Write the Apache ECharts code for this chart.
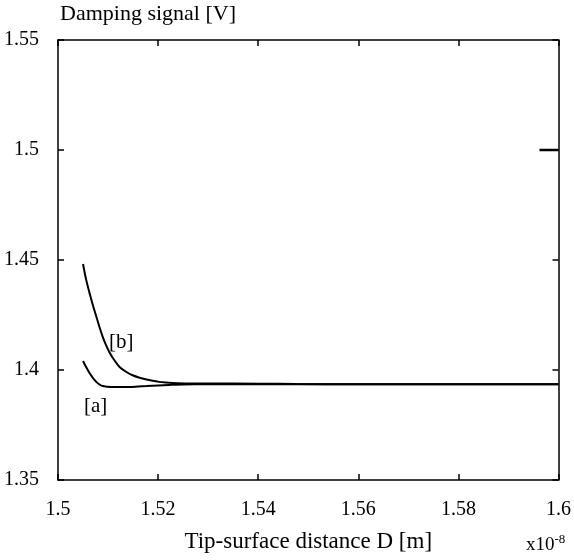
<!DOCTYPE html>
<html><head><meta charset="utf-8">
<script src="https://cdn.jsdelivr.net/npm/echarts@6/dist/echarts.min.js"></script>
<style>html,body{margin:0;padding:0;background:#fff}#c{width:574px;height:560px}</style>
</head><body><div id="c"></div>
<script>
const xTicks = [1.5, 1.52, 1.54, 1.56, 1.58, 1.6];
const yTicks = [1.35, 1.4, 1.45, 1.5, 1.55];
const curveA_x = [1.5050, 1.5057, 1.5063, 1.5070, 1.5077, 1.5083, 1.5089, 1.5099, 1.5109, 1.5125, 1.5143, 1.5160, 1.5177, 1.5200, 1.5222, 1.5250, 1.5300, 1.5400, 1.5500, 1.5600, 1.5700, 1.5800, 1.5900, 1.6000];
const curveA_y = [1.4041, 1.4010, 1.3986, 1.3963, 1.3945, 1.3934, 1.3927, 1.3924, 1.3923, 1.3923, 1.3923, 1.3925, 1.3927, 1.3930, 1.3932, 1.3934, 1.3935, 1.3935, 1.3935, 1.3935, 1.3935, 1.3935, 1.3935, 1.3935];
const curveB_x = [1.5050, 1.5056, 1.5063, 1.5070, 1.5077, 1.5083, 1.5089, 1.5096, 1.5103, 1.5113, 1.5123, 1.5136, 1.5149, 1.5163, 1.5177, 1.5190, 1.5202, 1.5215, 1.5228, 1.5260, 1.5300, 1.5400, 1.5476, 1.5600, 1.5800, 1.6000];
const curveB_y = [1.4482, 1.4413, 1.4350, 1.4292, 1.4240, 1.4194, 1.4153, 1.4113, 1.4080, 1.4043, 1.4014, 1.3992, 1.3976, 1.3965, 1.3957, 1.3951, 1.3946, 1.3943, 1.3941, 1.3939, 1.3939, 1.3938, 1.3936, 1.3935, 1.3935, 1.3935];
const segC_x = [1.5962, 1.6000];
const segC_y = [1.5, 1.5];

const font = '"Liberation Serif","DejaVu Serif",serif';
const fmt = v => String(Number(v.toFixed(3)));
const zip = (xs, ys) => xs.map((x, i) => [x, ys[i]]);

const chart = echarts.init(document.getElementById('c'), null, {renderer: 'canvas'});
const axisCommon = {
  type: 'value',
  axisLine: {show: true, onZero: false, lineStyle: {color: '#000', width: 1.5}},
  axisTick: {show: true, inside: true, length: 6, lineStyle: {color: '#000', width: 1.5}},
  splitLine: {show: false}
};
chart.setOption({
  animation: false,
  backgroundColor: '#fff',
  grid: {left: 58, right: 12, top: 40, bottom: 80},
  xAxis: [
    Object.assign({}, axisCommon, {min: 1.5, max: 1.6, interval: 0.02, position: 'bottom',
      axisLabel: {color: '#000', fontFamily: font, fontSize: 20, margin: 20, formatter: fmt},
      name: 'Tip-surface distance D [m]', nameLocation: 'middle', nameGap: 50,
      nameTextStyle: {color: '#000', fontFamily: font, fontSize: 23}}),
    Object.assign({}, axisCommon, {min: 1.5, max: 1.6, interval: 0.02, position: 'top',
      axisLabel: {show: false}})
  ],
  yAxis: [
    Object.assign({}, axisCommon, {min: 1.35, max: 1.55, interval: 0.05, position: 'left',
      axisLabel: {color: '#000', fontFamily: font, fontSize: 20, margin: 19, formatter: fmt}}),
    Object.assign({}, axisCommon, {min: 1.35, max: 1.55, interval: 0.05, position: 'right',
      axisLabel: {show: false}})
  ],
  series: [
    {type: 'line', data: zip(curveA_x, curveA_y), showSymbol: false, smooth: 0.3,
     lineStyle: {color: '#000', width: 2}},
    {type: 'line', data: zip(curveB_x, curveB_y), showSymbol: false, smooth: 0.3,
     lineStyle: {color: '#000', width: 2}},
    {type: 'line', data: zip(segC_x, segC_y), showSymbol: false,
     lineStyle: {color: '#000', width: 2.5}}
  ],
  graphic: [
    {type: 'text', left: 60, top: 3, style: {text: 'Damping signal [V]', fill: '#000', font: '22px ' + font}},
    {type: 'text', left: 109, top: 332, style: {text: '[b]', fill: '#000', font: '21px ' + font}},
    {type: 'text', left: 84, top: 396, style: {text: '[a]', fill: '#000', font: '21px ' + font}},
    {type: 'text', left: 526, top: 533, style: {
      text: 'x10{s|-8}', fill: '#000', font: '19px ' + font,
      rich: {s: {fontSize: 13, fontFamily: font, fill: '#000', verticalAlign: 'top', padding: [0, 0, 12, 0]}}}}
  ]
});
</script></body></html>
